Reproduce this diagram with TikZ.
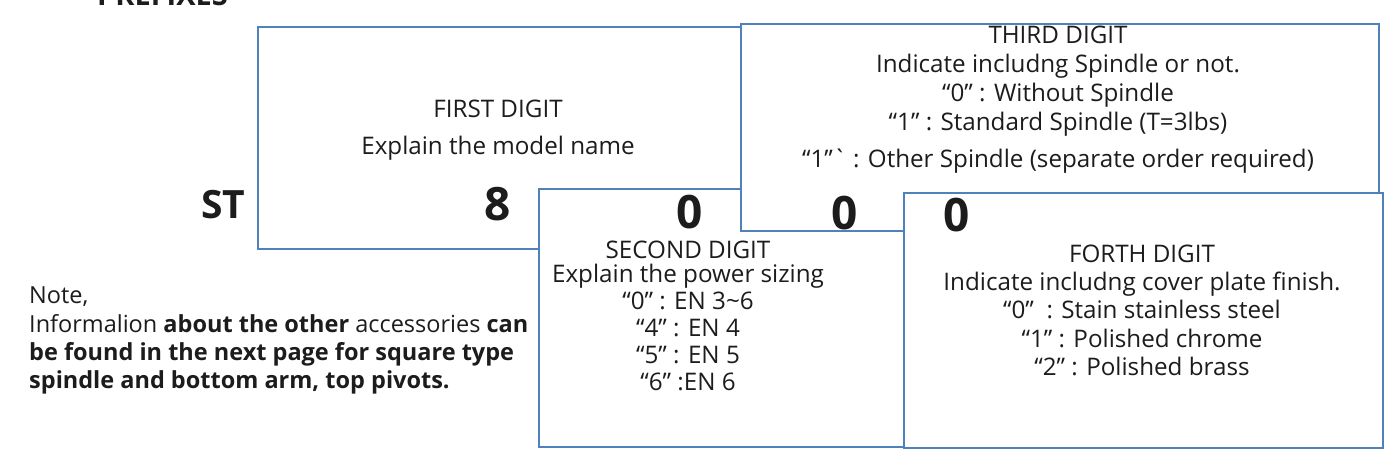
\documentclass[tikz,border=0pt]{standalone}
\usepackage{fontspec}
\setmainfont{Open Sans}
\definecolor{boxblue}{RGB}{79,129,189}
\definecolor{ink}{RGB}{28,28,28}
\begin{document}
\begin{tikzpicture}[x=1pt,y=-1pt,
  digitbox/.style={draw=boxblue,line width=2.4pt,fill=white,inner sep=0pt,anchor=north west},
  body/.style={font=\fontsize{24.2}{29}\selectfont,text=ink,inner sep=0pt,anchor=base},
  notetext/.style={font=\fontsize{23.5}{28}\selectfont,text=ink,inner sep=0pt,anchor=base west},
  bigdigit/.style={font=\fontsize{46}{46}\selectfont\bfseries,text=ink,inner sep=0pt,anchor=base},
]
\useasboundingbox (0,0) rectangle (1391,456);

\node[font=\fontsize{29}{29}\selectfont\bfseries,text=ink,inner sep=0pt,anchor=base west] (head) at (97,5) {PREFIXES};

% first digit
\node[digitbox,minimum width=483pt,minimum height=222pt] (b1) at (257,26) {};
\node[body] (t1a) at (498,117) {FIRST DIGIT};
\node[body] (t1b) at (498,154) {Explain the model name};
\node[bigdigit] (d1) at (498,220) {8};
\node[bigdigit,font=\fontsize{39}{39}\selectfont\bfseries,anchor=base west] (st) at (201,218) {ST};

% second digit
\node[digitbox,minimum width=365pt,minimum height=258pt] (b2) at (538,188) {};
\node[bigdigit] (d2) at (690,228) {0};
\node[body] (t2a) at (688,258) {SECOND DIGIT};
\node[body] (t2b) at (688,282) {Explain the power sizing};
\node[body] (t2c) at (688,309) {“0” : EN 3\textasciitilde 6};
\node[body] (t2d) at (688,336) {“4” : EN 4};
\node[body] (t2e) at (688,363) {“5” : EN 5};
\node[body] (t2f) at (688,390) {“6” :EN 6};

% third digit
\node[digitbox,minimum width=638pt,minimum height=207pt] (b3) at (740,23) {};
\node[body] (t3a) at (1058,43) {THIRD DIGIT};
\node[body] (t3b) at (1058,72) {Indicate includng Spindle or not.};
\node[body] (t3c) at (1058,101) {“0” : Without Spindle};
\node[body] (t3d) at (1058,130) {“1” : Standard Spindle (T=3lbs)};
\node[body] (t3e) at (1058,167) {“1”\textasciigrave{} : Other Spindle (separate order required)};
\node[bigdigit] (d3) at (845,229) {0};

% fourth digit
\node[digitbox,minimum width=479pt,minimum height=255pt] (b4) at (903,192) {};
\node[bigdigit] (d4) at (957,231) {0};
\node[body] (t4a) at (1142,262) {FORTH DIGIT};
\node[body] (t4b) at (1142,290) {Indicate includng cover plate finish.};
\node[body] (t4c) at (1142,318) {“0”\ \ : Stain stainless steel};
\node[body] (t4d) at (1142,347) {“1” : Polished chrome};
\node[body] (t4e) at (1142,375) {“2” : Polished brass};

% note
\node[notetext] (n1) at (29,303) {Note,};
\node[notetext] (n2) at (29,332) {Informalion \textbf{about the other} accessories \textbf{can}};
\node[notetext] (n3) at (29,360) {\textbf{be found in the next page for square type}};
\node[notetext] (n4) at (29,388) {\textbf{spindle and bottom arm, top pivots.}};
\end{tikzpicture}
\end{document}
